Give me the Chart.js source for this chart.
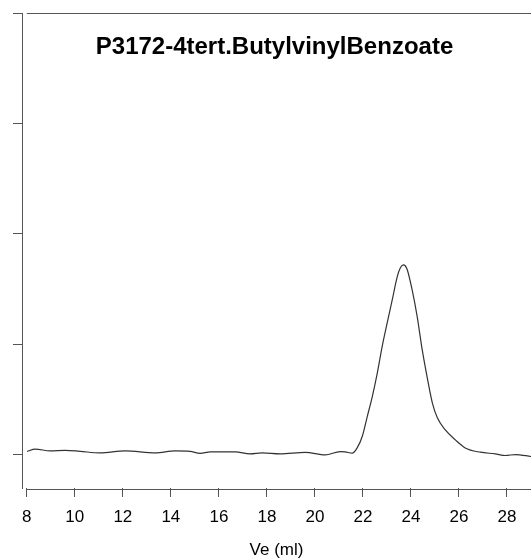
<!DOCTYPE html>
<html>
<head>
<meta charset="utf-8">
<script src="https://cdn.jsdelivr.net/npm/chart.js@4"></script>
<style>
  html, body { margin: 0; padding: 0; background: #fff; overflow: hidden; }
  canvas { display: block; }
</style>
</head>
<body>
<canvas id="chart" width="531" height="559"></canvas>
<script>
// 溶出体積 (ml) と検出器応答（任意単位）
const veValues = [8.01, 8.35, 8.97, 9.60, 10.22, 11.05, 12.10, 13.35, 14.18, 14.80,
    15.22, 15.64, 16.68, 17.30, 17.80, 18.55, 19.60, 20.43, 21.05, 21.26,
    21.55, 21.76, 21.97, 22.18, 22.39, 22.60, 22.80, 23.01, 23.22, 23.43,
    23.55, 23.68, 23.76, 23.85, 24.05, 24.26, 24.47, 24.68, 24.89, 25.10,
    25.43, 25.85, 26.26, 26.89, 27.51, 27.93, 28.35, 29.01];
const signalValues = [0.030, 0.052, 0.036, 0.041, 0.032, 0.018, 0.036, 0.018, 0.036, 0.032,
    0.014, 0.027, 0.027, 0.009, 0.018, 0.009, 0.023, 0.000, 0.030, 0.027,
    0.015, 0.063, 0.166, 0.347, 0.528, 0.742, 0.980, 1.195, 1.403, 1.614,
    1.690, 1.719, 1.712, 1.674, 1.493, 1.252, 0.950, 0.697, 0.471, 0.335,
    0.226, 0.136, 0.063, 0.024, 0.009, -0.006, 0.003, -0.015];
const xTicks = [8, 10, 12, 14, 16, 18, 20, 22, 24, 26, 28];
const yTicks = [0, 1, 2, 3, 4];
const chartTitle = 'P3172-4tert.ButylvinylBenzoate';
const xTitle = 'Ve (ml)';

const axisColor = '#555';
const fontFamily = '"Liberation Sans", Arial, sans-serif';

// タイトルと枠線（データではない）
const framePlugin = {
    id: 'frame',
    afterDraw(c) {
        const ctx = c.ctx;
        const area = c.chartArea;
        const x = c.scales.x;
        const x0 = x.getPixelForValue(xTicks[0]);
        ctx.save();
        ctx.strokeStyle = axisColor;
        ctx.lineWidth = 1;
        ctx.beginPath();
        ctx.moveTo(x0, area.top + 0.5);
        ctx.lineTo(area.right, area.top + 0.5);
        ctx.moveTo(x0, area.bottom + 1.5);
        ctx.lineTo(area.right, area.bottom + 1.5);
        ctx.stroke();
        ctx.fillStyle = '#000';
        ctx.font = 'bold 24px ' + fontFamily;
        ctx.textAlign = 'center';
        ctx.textBaseline = 'alphabetic';
        ctx.fillText(chartTitle, (area.left + area.right) / 2 - 2, area.top + 41);
        ctx.restore();
    }
};

const chart = new Chart(document.getElementById('chart').getContext('2d'), {
    type: 'line',
    data: {
        datasets: [{
            data: veValues.map((v, i) => ({ x: v, y: signalValues[i] })),
            borderColor: '#333',
            borderWidth: 1.2,
            pointRadius: 0,
            fill: false,
            cubicInterpolationMode: 'monotone'
        }]
    },
    options: {
        responsive: false,
        animation: false,
        layout: { padding: { top: 13, left: 0, right: 0, bottom: 0 } },
        plugins: {
            legend: { display: false },
            tooltip: { enabled: false },
            title: { display: false }
        },
        scales: {
            x: {
                type: 'linear',
                min: 7.8,
                max: 29.0,
                afterBuildTicks: s => { s.ticks = xTicks.map(v => ({ value: v })); },
                afterFit: s => { s.height = 71; },
                border: { display: false },
                grid: {
                    drawOnChartArea: false,
                    tickLength: 9,
                    tickColor: axisColor,
                    tickWidth: 1
                },
                ticks: {
                    color: '#000',
                    padding: 10,
                    maxRotation: 0,
                    font: { family: fontFamily, size: 17 }
                },
                title: {
                    display: true,
                    text: xTitle,
                    color: '#000',
                    padding: { top: 4, bottom: 0 },
                    font: { family: fontFamily, size: 17, lineHeight: 1 }
                }
            },
            y: {
                type: 'linear',
                min: -0.3,
                max: 4,
                afterBuildTicks: s => { s.ticks = yTicks.map(v => ({ value: v })); },
                afterFit: s => { s.width = 22; },
                border: { display: true, color: axisColor, width: 1 },
                grid: {
                    drawOnChartArea: false,
                    tickLength: 9,
                    tickColor: axisColor,
                    tickWidth: 1
                },
                ticks: { display: false }
            }
        }
    },
    plugins: [framePlugin]
});
</script>
</body>
</html>
